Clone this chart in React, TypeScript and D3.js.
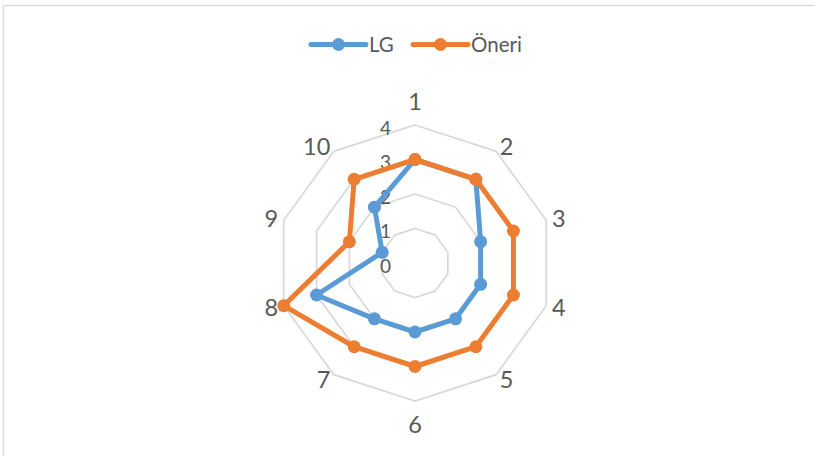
import React from "react";
import * as d3 from "d3";

// Radar chart data: ten criteria scored 0–4 for two alternatives
const categories = ["1", "2", "3", "4", "5", "6", "7", "8", "9", "10"];
const seriesNames = ["LG", "Öneri"];
const lgValues = [3, 3, 2, 2, 2, 2, 2, 3, 1, 2];
const oneriValues = [3, 3, 3, 3, 3, 3, 3, 4, 2, 3];
const tickValues = [0, 1, 2, 3, 4];
const seriesColors = ["#5b9bd5", "#ed7d31"];

const W = 815;
const H = 456;
const cx = 415;
const cy = 263;
const FONT = "Lato, Calibri, 'Open Sans', sans-serif";

export default function App() {
  const r = d3.scaleLinear().domain([0, 4]).range([0, 138]);
  const angle = d3
    .scalePoint<string>()
    .domain(categories)
    .range([0, 2 * Math.PI * (1 - 1 / categories.length)]);

  const radial = d3
    .lineRadial<number>()
    .angle((_, i) => angle(categories[i]) as number)
    .radius((v) => r(v))
    .curve(d3.curveLinearClosed);

  const pt = (i: number, v: number) => {
    const a = angle(categories[i]) as number;
    return [cx + Math.sin(a) * r(v), cy - Math.cos(a) * r(v)];
  };

  const gridLevels = tickValues.filter((t) => t > 0);
  const series = [lgValues, oneriValues];

  const labelR = 144;

  return (
    <svg
      width={W}
      height={H}
      style={{ position: "absolute", left: 0, top: 0, background: "#fff" }}
      fontFamily={FONT}
    >
      {/* chart area frame */}
      <rect x={3.5} y={5.5} width={W + 50} height={H + 50} fill="#fff" stroke="#d9d9d9" strokeWidth={1.25} />

      {/* legend */}
      {seriesNames.map((name, i) => {
        const x0 = i === 0 ? 311 : 413;
        return (
          <g key={name}>
            <line x1={x0} x2={x0 + 55} y1={44.5} y2={44.5} stroke={seriesColors[i]} strokeWidth={5} strokeLinecap="round" />
            <circle cx={x0 + 27.5} cy={44.5} r={6.5} fill={seriesColors[i]} />
            <text x={x0 + 58} y={44.5} dy="0.36em" fontSize={20.5} fill="#595959">
              {name}
            </text>
          </g>
        );
      })}

      {/* grid */}
      <g transform={`translate(${cx},${cy})`}>
        {gridLevels.map((lv) => (
          <path
            key={lv}
            d={radial(categories.map(() => lv)) || ""}
            fill="none"
            stroke="#d9d9d9"
            strokeWidth={1.75}
          />
        ))}
      </g>

      {/* radial tick labels */}
      {tickValues.map((t) => (
        <text
          key={t}
          x={cx - 24}
          y={cy - r(t) + 3}
          dy="0.36em"
          textAnchor="end"
          fontSize={19}
          fill="#595959"
        >
          {t}
        </text>
      ))}

      {/* category labels */}
      {categories.map((c, i) => {
        const a = angle(c) as number;
        const s = Math.sin(a);
        const co = Math.cos(a);
        const vertical = Math.abs(s) < 0.01;
        const x = cx + s * labelR;
        const y = cy - co * labelR + (vertical ? -Math.sign(co) * 17.5 : 0);
        return (
          <text
            key={c}
            x={x}
            y={y}
            dy="0.36em"
            textAnchor={vertical ? "middle" : s > 0 ? "start" : "end"}
            fontSize={23.5}
            fill="#595959"
          >
            {c}
          </text>
        );
      })}

      {/* series */}
      {series.map((vals, si) => (
        <g key={si}>
          <path
            transform={`translate(${cx},${cy})`}
            d={radial(vals) || ""}
            fill="none"
            stroke={seriesColors[si]}
            strokeWidth={5}
            strokeLinejoin="round"
          />
          {vals.map((v, i) => {
            const [x, y] = pt(i, v);
            return <circle key={i} cx={x} cy={y} r={6.5} fill={seriesColors[si]} />;
          })}
        </g>
      ))}
    </svg>
  );
}
